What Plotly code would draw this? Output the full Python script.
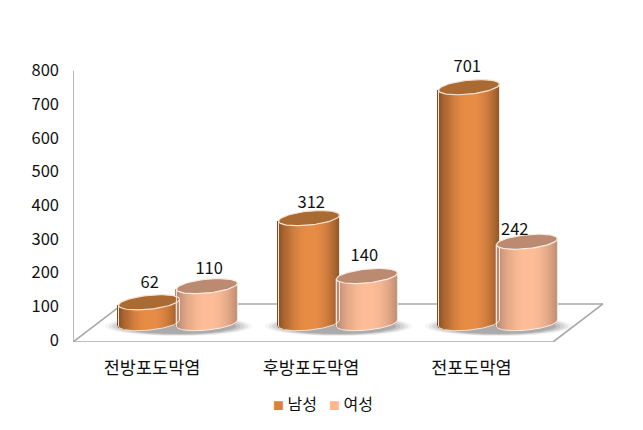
import numpy as np
import plotly.graph_objects as go

categories = ["전방포도막염", "후방포도막염", "전포도막염"]
male = [62, 312, 701]
female = [110, 140, 242]
series_names = ["남성", "여성"]
y_ticks = [0, 100, 200, 300, 400, 500, 600, 700, 800]

FONT = "Noto Sans CJK KR"
TEXT = "#111111"
AXIS = "#A8A8A8"
W, H = 643, 430
M_L, M_R, M_B = 73, 30, 87.5
Y_MIN, Y_TOP, Y_MAX = -6, 800, 900
UY = 0.3375                                  # px per value unit
M_T = H - M_B - (Y_MAX - Y_MIN) * UY
X_MIN = -0.65
X_MAX = 2.725
UX = (W - M_L - M_R) / (X_MAX - X_MIN)       # px per category
FLOOR_BACK = 107
FLOOR_BASE = 50
OFFSET = 0.181
GROUP_SHIFT = 0.006
A = 30.5 / UX
B = 7.0 / UY
TILT = 3.0 / UY
STRIPS = 61

tick_pos = [-0.156, 0.8375, 1.84]
label_dx = [[0.01, 0.02, -0.005], [0.02, -0.01, -0.07]]
label_dy = [[-1, -5, 0], [-3, 0, -8]]
legend_px = [271, 327]
legend_y_px = 404

styles = [
    dict(edge=(128, 76, 34), mid=(232, 141, 70), top="#A96B33", line="#F4E3D4", key="#D98340"),
    dict(edge=(176, 131, 106), mid=(255, 190, 153), top="#BC8A70", line="#F8ECE4", key="#FFB78F"),
]


def shade(st, u):
    k = np.clip(np.abs(u - 0.05) / 1.05, 0, 1) ** 2.2
    c = [st["mid"][i] + (st["edge"][i] - st["mid"][i]) * k for i in range(3)]
    return "rgb(%d,%d,%d)" % tuple(c)


fig = go.Figure()
shapes = []

# floor outline and wall line, below all traces
floor_lines = [
    (X_MIN, Y_MIN, X_MIN, Y_TOP),
    (X_MIN, Y_MIN, 2.35, Y_MIN),
    (2.35, Y_MIN, 2.6625, FLOOR_BACK),
    (2.6625, FLOOR_BACK, X_MIN + 50 / UX, FLOOR_BACK),
    (X_MIN + 50 / UX, FLOOR_BACK, X_MIN, Y_MIN),
]
for x0, y0, x1, y1 in floor_lines:
    shapes.append(dict(type="line", x0=x0, y0=y0, x1=x1, y1=y1, layer="below",
                       line=dict(color=AXIS, width=1.6)))

# soft shadows under each group
for i in range(3):
    for grow, alpha in [(1.0, 0.05), (0.95, 0.08), (0.90, 0.11), (0.84, 0.14), (0.78, 0.18)]:
        rx = 0.46 * grow
        ry = 10 * grow / UY
        cx0 = i + 0.01
        cy0 = FLOOR_BASE - 3 / UY
        shapes.append(dict(type="circle", x0=cx0 - rx, x1=cx0 + rx, y0=cy0 - ry, y1=cy0 + ry,
                           layer="below", fillcolor=f"rgba(70,70,70,{alpha})", line=dict(width=0)))

t = np.linspace(0, 2 * np.pi, 80)
# cylinders
for s, (vals, st) in enumerate(zip([male, female], styles)):
    sign = -1 if s == 0 else 1
    for i, v in enumerate(vals):
        cx = i + sign * OFFSET + GROUP_SHIFT
        u = np.linspace(-1, 1, STRIPS)
        xs = cx + A * u
        arc = -B * np.sqrt(1 - u ** 2) + TILT * u
        fig.add_trace(go.Bar(
            x=xs, y=[v] * STRIPS, base=FLOOR_BASE + arc,
            width=A * 2.6 / STRIPS,
            marker=dict(color=[shade(st, a) for a in u], line=dict(width=0)),
            hoverinfo="skip", showlegend=False))
        ox = np.concatenate([[xs[0]], xs, [xs[-1]]])
        oy = np.concatenate([[FLOOR_BASE + arc[0] + v], FLOOR_BASE + arc, [FLOOR_BASE + arc[-1] + v]])
        fig.add_trace(go.Scatter(x=ox, y=oy, mode="lines", line=dict(color=st["line"], width=1),
                                 hoverinfo="skip", showlegend=False))
        fig.add_trace(go.Scatter(
            x=cx + A * np.cos(t),
            y=FLOOR_BASE + v + B * np.sin(t) + TILT * np.cos(t),
            mode="lines", fill="toself", fillcolor=st["top"],
            line=dict(color=st["line"], width=1.2), hoverinfo="skip", showlegend=False))

# value labels
for s, vals in enumerate([male, female]):
    sign = -1 if s == 0 else 1
    fig.add_trace(go.Scatter(
        x=[i + sign * OFFSET + label_dx[s][i] for i in range(3)],
        y=[FLOOR_BASE + v + B + (label_dy[s][i] + 4) / UY for i, v in enumerate(vals)],
        mode="text", text=[str(v) for v in vals], textposition="top center",
        textfont=dict(family=FONT, size=16.5, color=TEXT),
        hoverinfo="skip", showlegend=False, cliponaxis=False))

annotations = [
    dict(text=f'<span style="color:{st["key"]};font-size:11px">■</span> {n}',
         x=(px - M_L) / (W - M_L - M_R), y=(H - M_B - legend_y_px) / (H - M_T - M_B),
         xref="paper", yref="paper", xanchor="left", yanchor="middle",
         showarrow=False, font=dict(family=FONT, size=16, color=TEXT))
    for n, st, px in zip(series_names, styles, legend_px)
]

fig.update_layout(
    width=W, height=H,
    margin=dict(l=M_L, r=M_R, t=M_T, b=M_B, pad=0),
    paper_bgcolor="white", plot_bgcolor="white",
    barmode="overlay", bargap=0, showlegend=False,
    font=dict(family=FONT, size=16, color=TEXT),
    shapes=shapes,
    xaxis=dict(range=[X_MIN, X_MAX], tickmode="array", tickvals=tick_pos, ticktext=categories,
               showgrid=False, zeroline=False, showline=False, ticks="", ticklabelstandoff=13,
               tickfont=dict(family=FONT, size=17.5, color=TEXT)),
    yaxis=dict(range=[Y_MIN, Y_MAX], tickmode="array", tickvals=y_ticks,
               showgrid=False, zeroline=False, showline=False,
               ticks="", ticklabelstandoff=13,
               tickfont=dict(family=FONT, size=16.5, color=TEXT)),
    annotations=annotations,
)

fig.write_html("out.html", post_script="document.body.style.margin='0';",
               config={"displayModeBar": False})
